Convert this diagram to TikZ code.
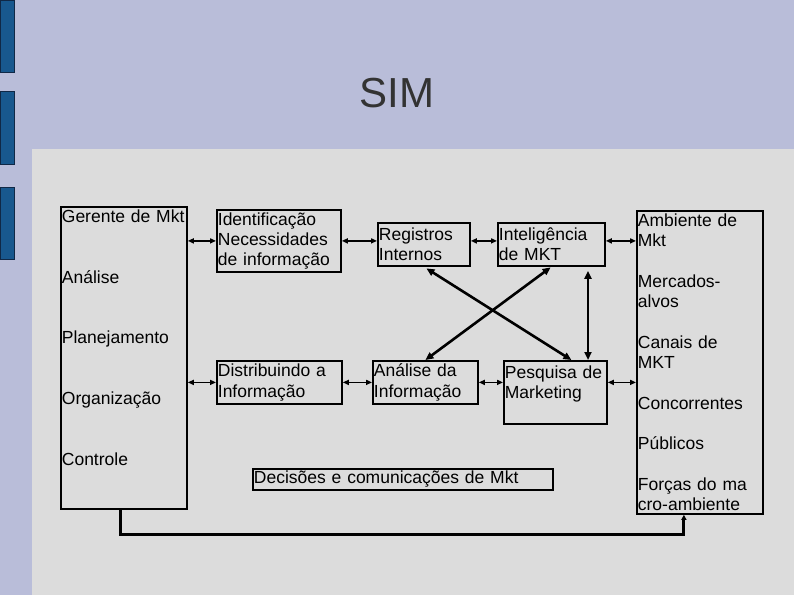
\documentclass[tikz,border=0pt]{standalone}
\usepackage{fontspec}
\setmainfont{Liberation Sans}
\usetikzlibrary{arrows.meta, calc}
\definecolor{slidelilac}{RGB}{185,189,217}
\definecolor{panelgrey}{RGB}{220,220,220}
\definecolor{barblue}{RGB}{24,88,142}
\definecolor{bardark}{RGB}{16,40,70}
\definecolor{titlegrey}{RGB}{51,51,51}

\begin{document}
\begin{tikzpicture}[
    x=1pt, y=-1pt,
    box/.style={
        draw, line width=1.8pt, anchor=north west,
        inner xsep=1pt, inner ysep=0pt, align=left,
        font=\fontsize{17.5}{20.3}\selectfont, text=black
    },
    link/.style={
        {Triangle[length=6pt, width=5pt]}-{Triangle[length=6pt, width=5pt]},
        line width=1.6pt
    },
    cross/.style={
        {Triangle[length=8pt, width=7pt]}-{Triangle[length=8pt, width=7pt]},
        line width=2.6pt
    },
    feedback/.style={
        -{Triangle[length=5pt, width=5pt]}, line width=3pt
    }
]

% --- slide background ---
\useasboundingbox (0,0) rectangle (794,595);
\fill[slidelilac] (0,0) rectangle (794,595);
\fill[panelgrey] (32,149) rectangle (794,595);
\foreach \ytop/\ybot in {0/72, 91/164, 187/259}
    \filldraw[fill=barblue, draw=bardark, line width=0.8pt] (0,\ytop) rectangle (14,\ybot);

\node[font=\fontsize{42}{48}\selectfont, text=titlegrey] (title) at (397,93) {SIM};

% --- nodes ---
\node[box, text width=124, minimum height=302] (gerente) at (60,206)
    {Gerente de Mkt\\~\\~\\Análise\\~\\~\\Planejamento\\~\\~\\Organização\\~\\~\\Controle\\~\\~};
\node[box, text width=122, minimum height=62]  (ident)     at (216,209) {Identificação\\Necessidades\\de informação};
\node[box, text width=90,  minimum height=43]  (registros) at (377,222) {Registros\\Internos};
\node[box, text width=105, minimum height=43]  (intel)     at (497,222) {Inteligência\\de MKT};
\node[box, text width=124, minimum height=303] (ambiente)  at (636,210)
    {Ambiente de\\Mkt\\~\\Mercados-\\alvos\\~\\Canais de\\MKT\\~\\Concorrentes\\~\\Públicos\\~\\Forças do ma\\cro-ambiente};
\node[box, text width=123, minimum height=43]  (distrib)   at (216,360) {Distribuindo a\\Informação};
\node[box, text width=103, minimum height=43]  (analise)   at (372,360) {Análise da\\Informação};
\node[box, text width=101, minimum height=63]  (pesquisa)  at (503,360) {Pesquisa de\\Marketing\\~};
\node[box, text width=298, minimum height=21]  (decisoes)  at (252,468) {Decisões e comunicações de Mkt};

% --- top row links ---
\draw[link] (gerente.east |- ident.west) -- (ident.west);
\draw[link] (ident.east) -- (ident.east -| registros.west);
\draw[link] (registros.east |- ident.east) -- (intel.west |- ident.east);
\draw[link] (intel.east |- ident.east) -- (ambiente.west |- ident.east);

% --- bottom row links ---
\draw[link] (gerente.east |- distrib.west) -- (distrib.west);
\draw[link] (distrib.east) -- (analise.west);
\draw[link] (analise.east) -- (pesquisa.west |- analise.east);
\draw[link] (pesquisa.east |- analise.east) -- (ambiente.west |- analise.east);

% --- crossing links ---
\coordinate (vcol) at (588,0);
\draw[cross, shorten <=3pt] (registros.south) -- ([xshift=16]pesquisa.north);
\draw[cross, shorten <=1pt] (intel.south) -- (analise.north);
\draw[cross, shorten <=4pt] (intel.south -| vcol) -- (pesquisa.north -| vcol);

% --- feedback loop along the bottom ---
\draw[feedback] ([xshift=-3]gerente.south) -- ++(0,25) -| ([xshift=-16]ambiente.south);

\end{tikzpicture}
\end{document}
